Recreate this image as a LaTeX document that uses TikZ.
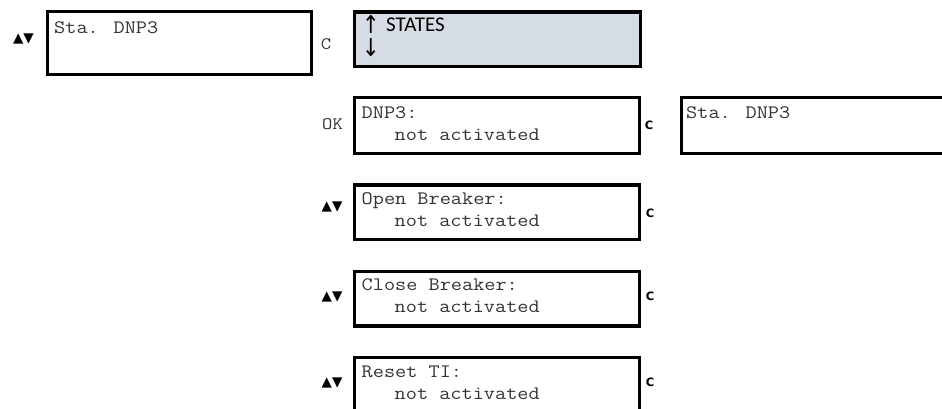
\documentclass[tikz,border=0pt]{standalone}
\usepackage{fontspec}
\usepackage{graphicx}
\setmainfont{Liberation Serif}
\newfontfamily\lcdmono{Latin Modern Mono}[FakeStretch=1.14]
\newfontfamily\symsans{DejaVu Sans}
\newfontfamily\calsans{Carlito}
\definecolor{lcdfill}{HTML}{D6DCE4}
\definecolor{lcdink}{HTML}{333333}
\tikzset{
  lcdbox/.style={draw=black, line width=3.3pt, rectangle, inner sep=0pt, anchor=north west},
  lcdtext/.style={font=\lcdmono\fontsize{19}{22}\selectfont, inner sep=0pt, anchor=base west, text=lcdink},
  arrowkey/.style={font=\symsans\fontsize{13.5}{15}\selectfont, inner sep=0pt, anchor=base},
  monokey/.style={font=\lcdmono\fontsize{17.5}{20}\selectfont, inner sep=0pt, anchor=base, text=lcdink},
  ckey/.style={font=\symsans\bfseries\fontsize{11.5}{13}\selectfont, inner sep=0pt, anchor=base},
  statetext/.style={font=\calsans\fontsize{21}{24}\selectfont, inner sep=0pt, anchor=base west},
  statearrow/.style={font=\symsans\fontsize{19}{24}\selectfont, inner sep=0pt, anchor=base west},
}
\begin{document}
\begin{tikzpicture}[x=1pt, y=-1pt]
\path[use as bounding box] (0,0) rectangle (942,409);
\clip (0,0) rectangle (942,409);
% boxes
\node[lcdbox, minimum width=264pt, minimum height=62.7pt] (tl) at (46,10) {};
\node[lcdbox, fill=lcdfill, minimum width=285.5pt, minimum height=54.5pt] (states) at (353,10.5) {};
\node[lcdbox, minimum width=285.3pt, minimum height=55.7pt] (dnp) at (352.7,96) {};
\node[lcdbox, minimum width=290pt, minimum height=55.7pt] (rt) at (679.5,96) {};
\node[lcdbox, minimum width=285.3pt, minimum height=54.2pt] (open) at (352.7,183.3) {};
\node[lcdbox, minimum width=285.3pt, minimum height=54.3pt] (close) at (352.7,270) {};
\node[lcdbox, minimum width=285.3pt, minimum height=74pt] (reset) at (352.7,356) {};
% box texts
\node[lcdtext] (tltxt) at (54,34) {Sta. DNP3};
\node[statearrow] (upar) at (362,34) {\scalebox{1.1}[1.3]{↑}};
\node[statetext] (sttxt) at (386,32) {STATES};
\node[statearrow] (dnar) at (362,56.5) {\scalebox{1.1}[1.3]{↓}};
\node[lcdtext] (dnp1) at (361.5,118.3) {DNP3:};
\node[lcdtext] (dnp2) at (394.5,140.3) {not activated};
\node[lcdtext] (rttxt) at (686,118.3) {Sta. DNP3};
\node[lcdtext] (open1) at (361.5,204) {Open Breaker:};
\node[lcdtext] (open2) at (394.5,226) {not activated};
\node[lcdtext] (close1) at (361.5,290.5) {Close Breaker:};
\node[lcdtext] (close2) at (394.5,312.5) {not activated};
\node[lcdtext] (reset1) at (361.5,377) {Reset TI:};
\node[lcdtext] (reset2) at (394.5,399) {not activated};
% key labels
\node[arrowkey] (k1) at (23.5,43) {▲▼};
\node[monokey] (k2) at (326,50) {C};
\node[monokey] (k3) at (332.5,130) {OK};
\node[ckey] (k4) at (649,129) {C};
\node[arrowkey] (k5) at (332,210) {▲▼};
\node[ckey] (k6) at (650,217) {C};
\node[arrowkey] (k7) at (332,300.5) {▲▼};
\node[ckey] (k8) at (650,300.5) {C};
\node[arrowkey] (k9) at (332,386) {▲▼};
\node[ckey] (k10) at (650,386.5) {C};
\end{tikzpicture}
\end{document}
